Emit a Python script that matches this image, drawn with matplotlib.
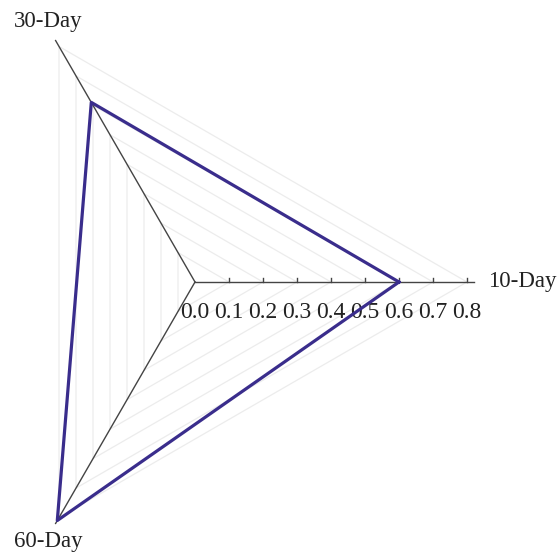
import numpy as np
import matplotlib.pyplot as plt

# radar data
categories = ['10-Day', '30-Day', '60-Day']
values = [0.60, 0.61, 0.81]
levels = [0.1, 0.2, 0.3, 0.4, 0.5, 0.6, 0.7, 0.8]
tick_labels = ['0.0', '0.1', '0.2', '0.3', '0.4', '0.5', '0.6', '0.7', '0.8']

plt.rcParams['font.family'] = ['Liberation Serif', 'DejaVu Serif']

angles = np.deg2rad([0, 120, 240])
ux, uy = np.cos(angles), np.sin(angles)

fig = plt.figure(figsize=(5.57, 5.58), dpi=100)
ax = fig.add_axes([0, 0, 1, 1])
ax.set_xlim(-195 / 340, (557 - 195) / 340)
ax.set_ylim(-(558 - 282) / 340, 282 / 340)
ax.axis('off')

# faint triangular grid
for lv in levels:
    gx = np.append(ux * lv, ux[0] * lv)
    gy = np.append(uy * lv, uy[0] * lv)
    ax.plot(gx, gy, color='#ececec', lw=0.9, zorder=1)

# spokes
axis_len = 0.82
for a in range(3):
    ax.plot([0, ux[a] * axis_len], [0, uy[a] * axis_len], color='#444444', lw=1.0, zorder=2)

# ticks on the 10-Day axis
for i, lab in enumerate(tick_labels):
    v = i / 10
    if v > 0:
        ax.plot([v, v], [0, 0.011], color='#444444', lw=1.0, zorder=2)
    ax.text(v, -0.089, lab, ha='center', va='center', fontsize=17, color='#222222')

# data polygon
px = np.append(ux * values, ux[0] * values[0])
py = np.append(uy * values, uy[0] * values[0])
ax.plot(px, py, color='#3a2d8c', lw=2.3, zorder=3)

# category labels
ax.text(0.862, 0.0, categories[0], ha='left', va='center', fontsize=16.5, color='#222222')
ax.text(-0.432, 0.765, categories[1], ha='center', va='center', fontsize=16.5, color='#222222')
ax.text(-0.432, -0.762, categories[2], ha='center', va='center', fontsize=16.5, color='#222222')

fig.savefig('out.png', dpi=100, facecolor='white')
